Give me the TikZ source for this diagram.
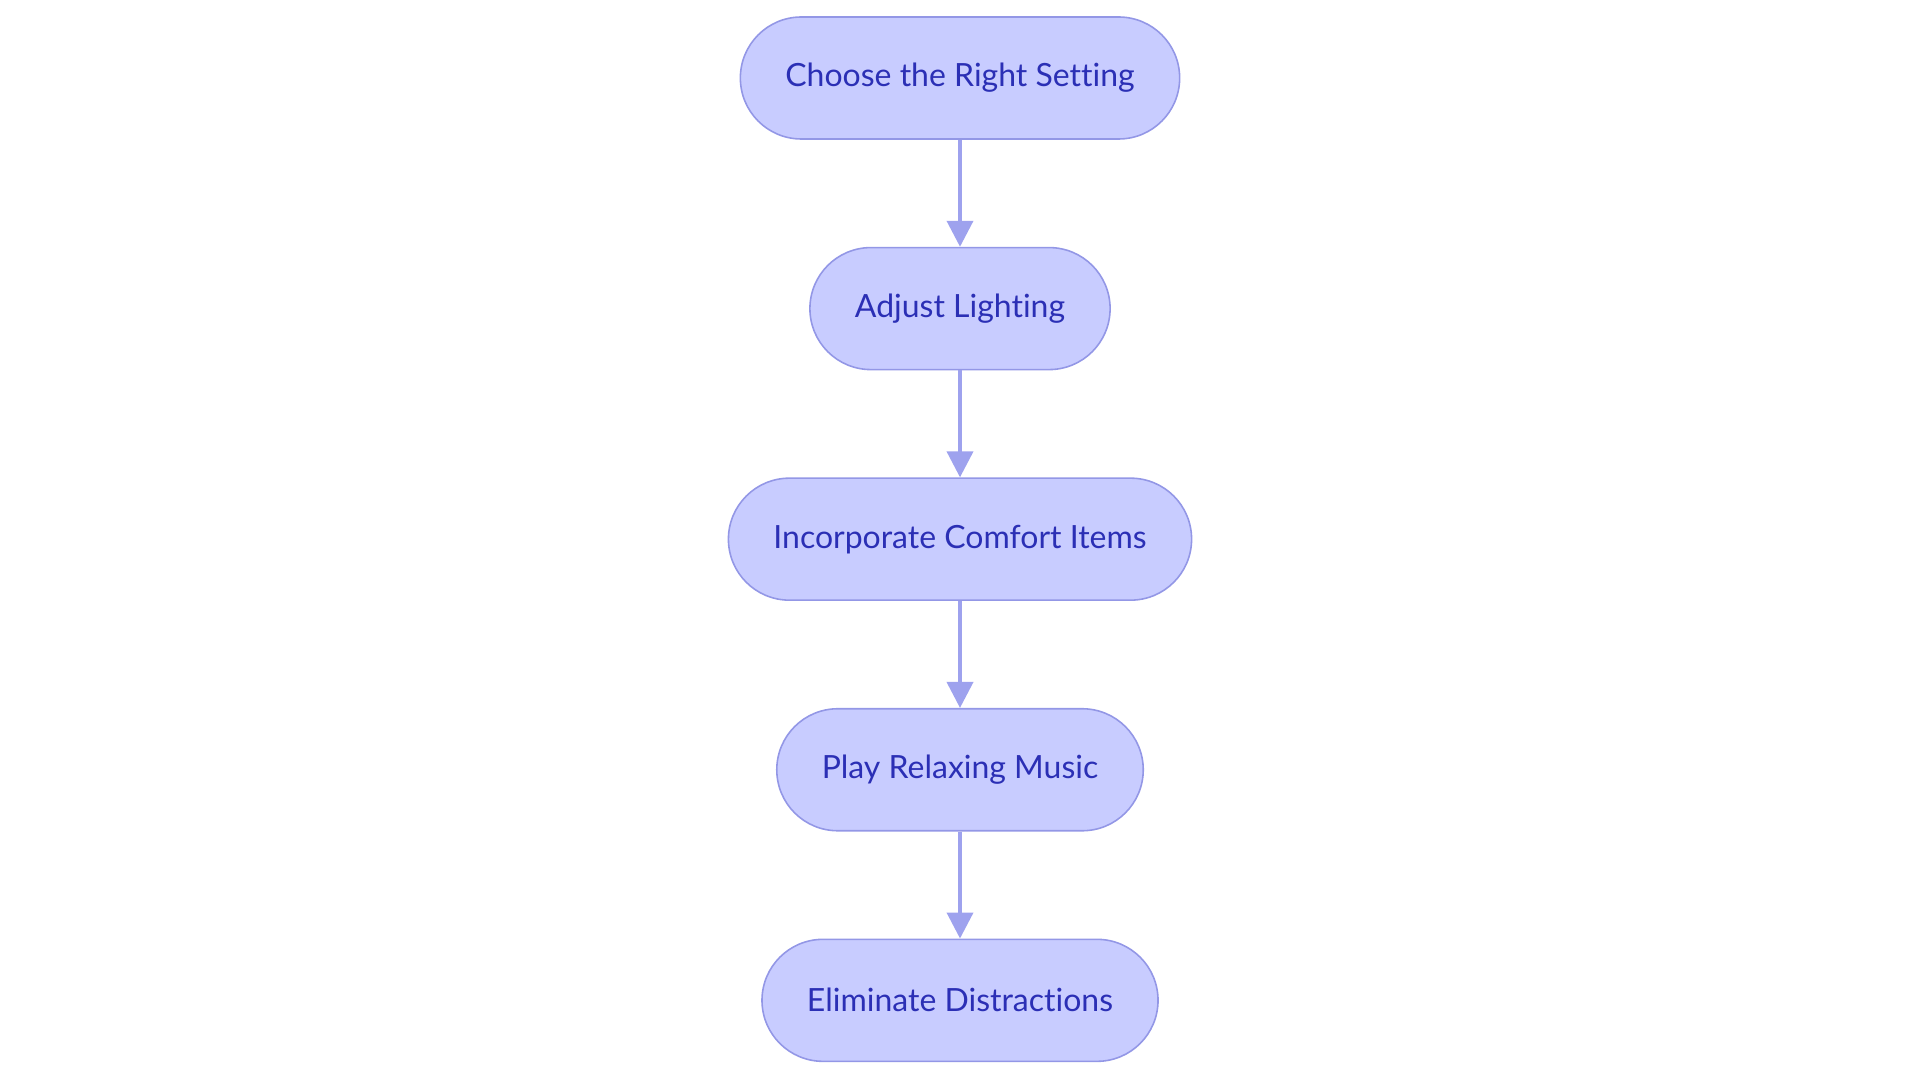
\documentclass[tikz,border=0pt]{standalone}
\usepackage{fontspec}
\setmainfont{Lato}[Ligatures=NoCommon]
\usetikzlibrary{positioning,arrows.meta}
\definecolor{stepfill}{HTML}{C8CCFF}
\definecolor{stepline}{HTML}{9397E6}
\definecolor{steptext}{HTML}{2B2FB5}
\definecolor{arrowcol}{HTML}{9EA2EE}
\begin{document}
\begin{tikzpicture}[
  stepbox/.style={draw=stepline,line width=0.45pt,fill=stepfill,text=steptext,
    rounded corners=0.61cm,minimum height=1.22cm,inner xsep=0.45cm,font=\fontsize{9.1}{11}\selectfont},
  flow/.style={draw=arrowcol,line width=1.1pt,-{Triangle[length=0.26cm,width=0.26cm]}}]
\useasboundingbox (0,0) rectangle (19.2,-10.83);

\node[stepbox] (setting) at (9.6,-0.78) {Choose the Right Setting};
\node[stepbox,below=1.07cm of setting] (lighting) {Adjust Lighting};
\node[stepbox,below=1.07cm of lighting] (comfort) {Incorporate Comfort Items};
\node[stepbox,below=1.07cm of comfort] (music) {Play Relaxing Music};
\node[stepbox,below=1.07cm of music] (distract) {Eliminate Distractions};

\draw[flow] (setting) -- (lighting);
\draw[flow] (lighting) -- (comfort);
\draw[flow] (comfort) -- (music);
\draw[flow] (music) -- (distract);
\end{tikzpicture}
\end{document}
